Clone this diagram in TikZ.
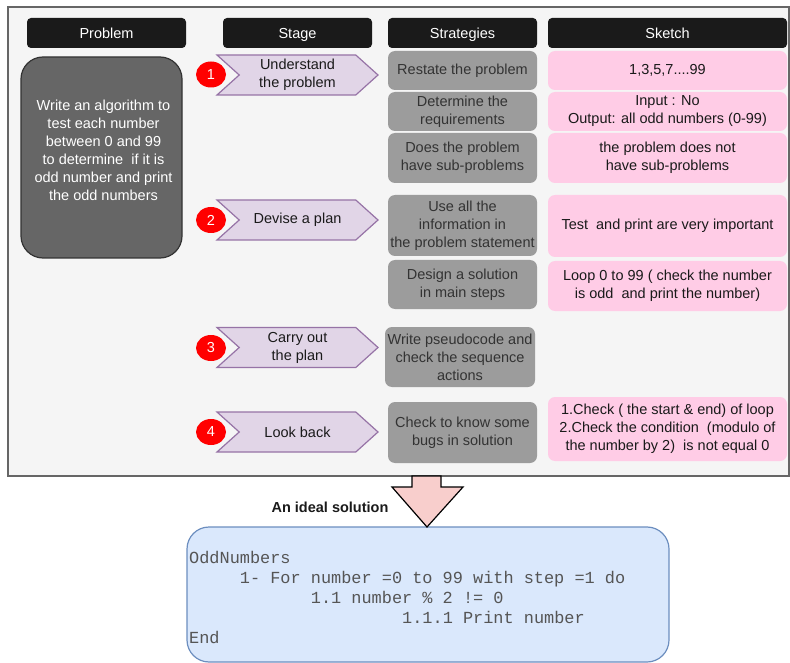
\documentclass[tikz,border=0pt]{standalone}
\usepackage{fontspec}
\setmainfont{Liberation Sans}
\newfontfamily\codefont{Liberation Mono}
\usetikzlibrary{shapes.symbols,shapes.geometric}

\definecolor{framebg}{HTML}{F5F5F5}
\definecolor{frameline}{HTML}{666666}
\definecolor{headblack}{HTML}{1A1A1A}
\definecolor{probfill}{HTML}{666666}
\definecolor{probline}{HTML}{333333}
\definecolor{stagefill}{HTML}{E1D5E7}
\definecolor{stageline}{HTML}{9673A6}
\definecolor{stratgray}{HTML}{9C9C9C}
\definecolor{sketchpink}{HTML}{FFCCE6}
\definecolor{arrowpink}{HTML}{F8CECC}
\definecolor{solfill}{HTML}{DAE8FC}
\definecolor{solline}{HTML}{6C8EBF}
\definecolor{textdark}{HTML}{1A1A1A}
\definecolor{textgray}{HTML}{333333}
\definecolor{codegray}{HTML}{555555}

\begin{document}
\begin{tikzpicture}[
    x=1pt, y=-1pt,
    every node/.style={font=\fontsize{14.5}{18}\selectfont, align=center, inner sep=0pt},
    header/.style={rectangle, rounded corners=4pt, fill=headblack, text=white, minimum height=30pt, text height=10.5pt, text depth=0pt},
    stage/.style={signal, signal from=west, signal to=east, signal pointer angle=84, draw=stageline, fill=stagefill, line width=1.2pt, minimum width=161pt, minimum height=40pt, text=textdark},
    num/.style={ellipse, fill=red, text=white, minimum width=30pt, minimum height=26pt},
    strategy/.style={rectangle, rounded corners=7pt, fill=stratgray, text=textgray, minimum width=149pt},
    sketch/.style={rectangle, rounded corners=7pt, fill=sketchpink, text=textdark, minimum width=239pt}
]
\useasboundingbox (0,0) rectangle (790,663);

% frame
\draw[draw=frameline, fill=framebg, line width=1.2pt] (8,7) rectangle (789,476);

% headers
\node[header, minimum width=159pt] (hproblem) at (106.5,33) {Problem};
\node[header, minimum width=149pt] (hstage) at (297.5,33) {Stage};
\node[header, minimum width=149pt] (hstrat) at (462.5,33) {Strategies};
\node[header, minimum width=239pt] (hsketch) at (667.5,33) {Sketch};

% problem
\node[rectangle, rounded corners=22pt, fill=probfill, draw=probline, line width=1.2pt, minimum width=161pt, minimum height=201pt] (problem) at (101.5,157.5) {};
\node[text=white] (problemtext) at (103.5,150.5) {Write an algorithm to\\ test each number\\ between 0 and 99\\ to determine\ \ if it is\\ odd number and print\\ the odd numbers};

% stages
\node[stage] (understand) at (297.5,75) {Understand\\the problem};
\node[stage] (devise) at (297.5,220) {Devise a plan};
\node[stage] (carry) at (297.5,347.5) {Carry out\\the plan};
\node[stage] (lookback) at (297.5,432) {Look back};
\foreach \n/\y in {1/74.5,2/220,3/348,4/432}
  \node[num] (num\n) at (211,\y) {\n};

% strategies
\node[strategy, minimum height=39pt] (restate) at (462.5,70.5) {Restate the problem};
\node[strategy, minimum height=39pt] (require) at (462.5,111.5) {Determine the\\requirements};
\node[strategy, minimum height=50pt] (subprob) at (462.5,158) {Does the problem\\have sub-problems};
\node[strategy, minimum height=61pt] (useinfo) at (462.5,225.5) {Use all the\\information in\\the problem statement};
\node[strategy, minimum height=49pt] (design) at (462.5,284.5) {Design a solution\\ in main steps};
\node[strategy, minimum width=150pt, minimum height=60pt] (pseudo) at (460,357) {Write pseudocode and\\check the sequence\\actions};
\node[strategy, minimum height=61pt] (bugs) at (462.5,432.5) {Check to know some\\bugs in solution};

% sketches
\node[sketch, minimum height=39pt] (odds) at (667.5,70.5) {1,3,5,7....99};
\node[sketch, minimum height=39pt] (inout) at (667.5,111.5) {Input : No\\Output: all odd numbers (0-99)};
\node[sketch, minimum height=50pt] (nosub) at (667.5,158) {the problem does not\\have sub-problems};
\node[sketch, minimum height=62pt] (testprint) at (667.5,226) {Test\ \ and print are very important};
\node[sketch, minimum height=50pt] (loop) at (667.5,286) {Loop 0 to 99 ( check the number\\is odd\ \ and print the number)};
\node[sketch, minimum height=64pt] (checks) at (667.5,429) {1.Check ( the start \& end) of loop\\2.Check the condition\ \ (modulo of\\the number by 2)\ \ is not equal 0};

% solution
\node[rectangle, rounded corners=22pt, fill=solfill, draw=solline, line width=1.2pt, minimum width=482pt, minimum height=135pt] (solution) at (428,594.5) {};
\draw[fill=arrowpink, line width=1.2pt] (412,476) -- (441,476) -- (441,487) -- (463,487) -- (427,527) -- (392,487) -- (412,487) -- cycle;
\node[font=\bfseries\fontsize{14.5}{18}\selectfont, text=textdark] (ideal) at (330,507) {An ideal solution};
\node[anchor=west, align=left, text=codegray, font=\codefont\fontsize{16.9}{20}\selectfont] (code) at (189,597) {OddNumbers\\
\hspace*{50.7pt}1- For number =0 to 99 with step =1 do\\
\hspace*{121.7pt}1.1 number \% 2 != 0\\
\hspace*{213pt}1.1.1 Print number\\
End};

\end{tikzpicture}
\end{document}
